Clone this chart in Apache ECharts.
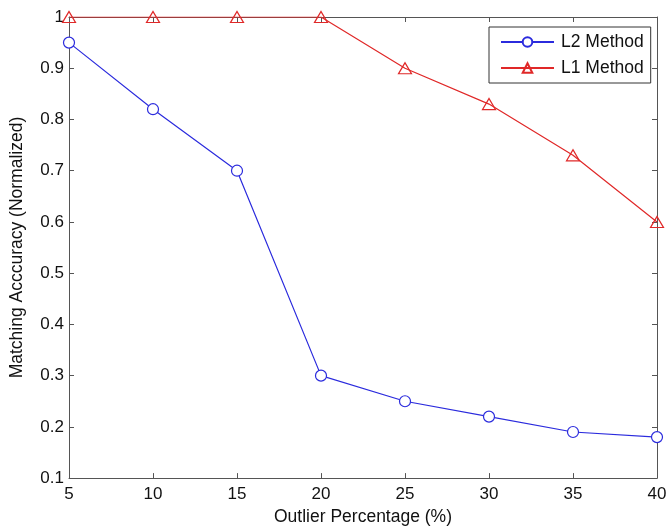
<!DOCTYPE html>
<html><head><meta charset="utf-8">
<script src="https://cdn.jsdelivr.net/npm/echarts@6/dist/echarts.min.js"></script>
<style>html,body{margin:0;padding:0;background:#fff}#c{width:670px;height:531px}</style>
</head><body><div id="c"></div>
<script>
const outlierPct = [5, 10, 15, 20, 25, 30, 35, 40];
const l2Values = [0.95, 0.82, 0.70, 0.30, 0.25, 0.22, 0.19, 0.18];
const l1Values = [1.0, 1.0, 1.0, 1.0, 0.90, 0.83, 0.73, 0.60];
const xTitle = 'Outlier Percentage (%)';
const yTitle = 'Matching Acccuracy (Normalized)';

const font = 'Liberation Sans, Arial, Helvetica, sans-serif';
const axisCol = '#555';
const tickFs = 17;
const titleFs = 17.5;
const chart = echarts.init(document.getElementById('c'));
const tickCommon = {show: true, inside: true, length: 5, lineStyle: {color: axisCol}};
chart.setOption({
  animation: false,
  backgroundColor: '#fff',
  grid: {left: 68, right: 13, top: 17, bottom: 50, containLabel: false},
  legend: {
    orient: 'vertical', left: 489, top: 27,
    backgroundColor: '#fff', borderColor: '#333', borderWidth: 1,
    padding: [6, 7, 6, 11], itemGap: 8, itemWidth: 53, itemHeight: 12,
    textStyle: {fontFamily: font, fontSize: 17.5, lineHeight: 18, color: '#111', padding: [0, 0, 0, 2]},
    data: ['L2 Method', 'L1 Method']
  },
  xAxis: [{
    type: 'value', min: 5, max: 40, interval: 5,
    name: xTitle, nameLocation: 'middle', nameGap: 29,
    nameTextStyle: {fontFamily: font, fontSize: titleFs, color: '#111'},
    axisLine: {show: true, onZero: false, lineStyle: {color: axisCol, width: 1}},
    axisTick: tickCommon,
    axisLabel: {fontFamily: font, fontSize: tickFs, color: '#111', margin: 8},
    splitLine: {show: false}
  }, {
    type: 'value', position: 'top', min: 5, max: 40, interval: 5,
    axisLine: {show: true, onZero: false, lineStyle: {color: axisCol, width: 1}},
    axisTick: tickCommon, axisLabel: {show: false}, splitLine: {show: false}
  }],
  yAxis: [{
    type: 'value', min: 0.1, max: 1, interval: 0.1,
    name: yTitle, nameLocation: 'middle', nameGap: 43,
    nameTextStyle: {fontFamily: font, fontSize: titleFs, color: '#111'},
    axisLine: {show: true, onZero: false, lineStyle: {color: axisCol, width: 1}},
    axisTick: tickCommon,
    axisLabel: {fontFamily: font, fontSize: tickFs, color: '#111', margin: 5,
      formatter: v => { const r = Math.round(v * 10) / 10; return r === 1 ? '1' : r.toFixed(1); }},
    splitLine: {show: false}
  }, {
    type: 'value', position: 'right', min: 0.1, max: 1, interval: 0.1,
    axisLine: {show: true, onZero: false, lineStyle: {color: axisCol, width: 1}},
    axisTick: tickCommon, axisLabel: {show: false}, splitLine: {show: false}
  }],
  series: [{
    name: 'L2 Method', type: 'line',
    data: outlierPct.map((x, i) => [x, l2Values[i]]),
    symbol: 'circle', symbolSize: 11,
    lineStyle: {color: '#2b2bdd', width: 1.2},
    itemStyle: {color: '#fff', borderColor: '#2b2bdd', borderWidth: 1.2},
    z: 3
  }, {
    name: 'L1 Method', type: 'line',
    data: outlierPct.map((x, i) => [x, l1Values[i]]),
    symbol: 'triangle', symbolSize: [13, 11],
    lineStyle: {color: '#e02828', width: 1.2},
    itemStyle: {color: 'rgba(255,255,255,0)', borderColor: '#e02828', borderWidth: 1.2},
    z: 3
  }]
});
</script></body></html>
